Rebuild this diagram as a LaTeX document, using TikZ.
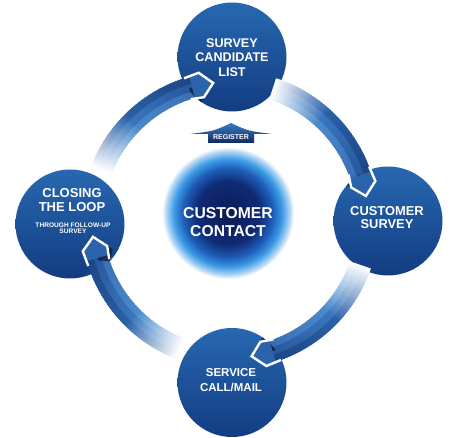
\documentclass[tikz,border=0pt]{standalone}
\usepackage{fontspec}
\setmainfont{Liberation Sans}
\usetikzlibrary{calc}
\definecolor{circTop}{HTML}{2768B0}
\definecolor{circBot}{HTML}{133C82}
\definecolor{inL}{HTML}{4C8CCC}
\definecolor{inD}{HTML}{2A5BA0}
\definecolor{midL}{HTML}{3A78BE}
\definecolor{midD}{HTML}{1A4088}
\definecolor{outL}{HTML}{2C63A8}
\definecolor{outD}{HTML}{112F6C}
\definecolor{headBlue}{HTML}{2B64AC}
\definecolor{shadowC}{HTML}{0A1430}
\definecolor{gNavy}{HTML}{0A1A55}
\definecolor{gNavyB}{HTML}{102B74}
\definecolor{gBlue}{HTML}{1E5EB8}
\definecolor{gLight}{HTML}{3C9BE6}
\definecolor{gPale}{HTML}{B5D8F5}
\definecolor{regTop}{HTML}{3A7CC2}
\definecolor{regBot}{HTML}{0F2A63}
\pgfdeclareradialshading{glowshade}{\pgfpoint{0bp}{0bp}}{color(0bp)=(gNavy); color(12bp)=(gNavyB); color(17bp)=(gBlue); color(20.5bp)=(gLight); color(23.5bp)=(gPale); color(25bp)=(white); color(50bp)=(white)}
\newcommand\bandarc[2]{%
  \pgfmathsetmacro\bandS{#1}%
  \pgfmathsetmacro\bandE{#2+7}%
  \foreach \k in {0,...,49}{%
    \pgfmathsetmacro\angA{\bandS-(\bandS-\bandE)*\k/50}%
    \pgfmathsetmacro\angB{\bandS-(\bandS-\bandE)*(\k+1)/50-0.4}%
    \pgfmathsetmacro\tv{(\k+0.5)/50}%
    \pgfmathtruncatemacro\pp{min(100,\tv*230)}%
    \pgfmathtruncatemacro\rr{100-60*max(0,(\tv-0.4)/0.6)}%
    \colorlet{stripI}{inL!\pp!white!\rr!inD}%
    \colorlet{stripM}{midL!\pp!white!\rr!midD}%
    \colorlet{stripO}{outL!\pp!white!\rr!outD}%
    \fill[stripI] ($(C)+(\angA:127)$) arc[start angle=\angA,end angle=\angB,radius=127] -- ($(C)+(\angB:134.5)$) arc[start angle=\angB,end angle=\angA,radius=134.5] -- cycle;
    \fill[stripM] ($(C)+(\angA:134)$) arc[start angle=\angA,end angle=\angB,radius=134] -- ($(C)+(\angB:142)$) arc[start angle=\angB,end angle=\angA,radius=142] -- cycle;
    \fill[stripO] ($(C)+(\angA:141.5)$) arc[start angle=\angA,end angle=\angB,radius=141.5] -- ($(C)+(\angB:149)$) arc[start angle=\angB,end angle=\angA,radius=149] -- cycle;
  }%
}
\newcommand\bandhead[2]{%
  \begin{scope}
    \clip (#2.center) circle[radius=54.5];
    \fill[shadowC, opacity=.7] ($(C)+({#1+12}:127)$) -- ($(C)+({#1+7}:121)$) -- ($(C)+({#1+1}:133)$) -- ($(C)+(#1:138)$) -- ($(C)+({#1+10}:138)$) -- cycle;
  \end{scope}
  \fill[headBlue] ($(C)+({#1+9}:127)$) -- ($(C)+({#1+5}:125.5)$) -- ($(C)+(#1:138)$) -- ($(C)+({#1+5}:150.5)$) -- ($(C)+({#1+9}:149)$) -- cycle;
  \draw[white, line width=2.4pt, line join=miter] ($(C)+({#1+11}:127)$) -- ($(C)+({#1+5}:125.5)$) -- ($(C)+(#1:138)$) -- ($(C)+({#1+5}:150.5)$) -- ($(C)+({#1+11}:149)$);
}
\tikzset{
  stepcirc/.style={circle, minimum size=109pt, inner sep=0pt, top color=circTop, bottom color=circBot, draw=none},
  lbl/.style={text=white, align=center, inner sep=0pt},
}
\begin{document}
\begin{tikzpicture}[x=1pt,y=1pt]
\useasboundingbox (0,0) rectangle (464,438);
\fill[white] (0,0) rectangle (464,438);
\coordinate (C) at (230,218);
% centre glow
\node[circle, minimum size=132pt, inner sep=0pt, shade, shading=glowshade] (hub) at (228,225) {};
\node[lbl, font=\bfseries\fontsize{15.7}{18.5}\selectfont] (hubtxt) at (228,216) {CUSTOMER\\CONTACT};
% step circles
\node[stepcirc] (top) at (232,381) {};
\node[stepcirc] (left) at (70,214) {};
\node[stepcirc] (right) at (388,217) {};
\node[stepcirc] (bottom) at (232,55.5) {};
% arcs
\bandarc{159}{97}
\bandhead{97}{top}
\bandarc{72}{10}
\bandhead{10}{right}
\bandarc{-19}{-81}
\bandhead{-81}{bottom}
\bandarc{249}{187}
\bandhead{187}{left}
% labels
\node[lbl, font=\bfseries\fontsize{12.6}{14.7}\selectfont] (toptxt) at (232,380.5) {SURVEY\\CANDIDATE\\LIST};
\node[lbl, font=\bfseries\fontsize{12.9}{13.5}\selectfont] (righttxt) at (387,220.5) {CUSTOMER\\SURVEY};
\node[lbl, font=\bfseries\fontsize{11.5}{15.5}\selectfont] (bottomtxt) at (231,58) {SERVICE\\CALL/MAIL};
\node[lbl, font=\bfseries\fontsize{13}{14.5}\selectfont] (lefttxt) at (72,238) {CLOSING\\THE LOOP};
\node[lbl, font=\bfseries\fontsize{6.6}{6.4}\selectfont] (leftsub) at (73,210) {THROUGH FOLLOW-UP\\SURVEY};
% register arrow
\shade[top color=regTop, bottom color=regBot] (190,304) .. controls (214,307) .. (231,315) .. controls (248,307) .. (272,304) -- (254,304) -- (254,295) -- (208,295) -- (208,304) -- cycle;
\node[lbl, font=\bfseries\fontsize{7}{8}\selectfont] (reg) at (231,300.5) {REGISTER};
\end{tikzpicture}
\end{document}
